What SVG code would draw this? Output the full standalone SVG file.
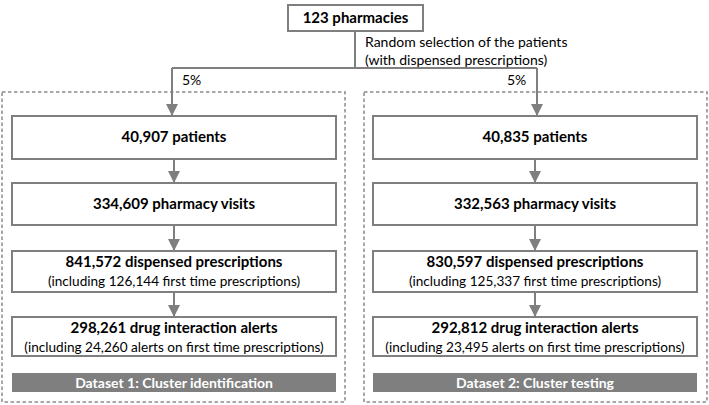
<svg xmlns="http://www.w3.org/2000/svg" width="709" height="405" viewBox="0 0 709 405">
<defs>
<style>
.box{fill:#fff;stroke:#7f7f7f;stroke-width:2}
.cont{fill:none;stroke:#8c8c8c;stroke-width:1.5;stroke-dasharray:3.5 2.5}
.bar{fill:#7f7f7f}
.ln{fill:none;stroke:#7f7f7f;stroke-width:2}
.b{font-family:Lato,"Liberation Sans",sans-serif;font-weight:bold;font-size:15px;fill:#000;text-anchor:middle}
.r{font-family:Lato,"Liberation Sans",sans-serif;font-size:13.6px;fill:#000;text-anchor:middle}
.l{font-family:Lato,"Liberation Sans",sans-serif;font-size:14px;fill:#000}
.w{font-family:Lato,"Liberation Sans",sans-serif;font-weight:bold;font-size:14px;fill:#fff;text-anchor:middle}
</style>
<marker id="ah" markerWidth="6" markerHeight="6" refX="6" refY="3" orient="auto" markerUnits="strokeWidth">
<path d="M0,0 L6,3 L0,6 Z" fill="#7f7f7f"/>
</marker>
</defs>
<rect width="709" height="405" fill="#fff"/>
<g id="containers">
<rect class="cont" x="2" y="92" width="343" height="310"/>
<rect class="cont" x="364" y="92" width="343" height="310"/>
</g>
<g id="connectors">
<path class="ln" d="M355,31 V68 M172,68 H537"/>
<path class="ln" d="M172,68 V116" marker-end="url(#ah)"/>
<path class="ln" d="M537,68 V116" marker-end="url(#ah)"/>
<path class="ln" d="M174,159 V183" marker-end="url(#ah)"/>
<path class="ln" d="M174,225 V251" marker-end="url(#ah)"/>
<path class="ln" d="M174,292 V317" marker-end="url(#ah)"/>
<path class="ln" d="M535,159 V183" marker-end="url(#ah)"/>
<path class="ln" d="M535,225 V251" marker-end="url(#ah)"/>
<path class="ln" d="M535,292 V317" marker-end="url(#ah)"/>
<text class="l" x="365" y="47">Random selection of the patients</text>
<text class="l" x="365" y="65">(with dispensed prescriptions)</text>
<text class="l" x="182" y="85">5%</text>
<text class="l" x="507" y="85">5%</text>
</g>
<g id="n0">
<rect class="box" x="288" y="5" width="135" height="26"/>
<text class="b" x="355.5" y="23">123 pharmacies</text>
</g>
<g id="l1">
<rect class="box" x="12" y="116" width="324" height="43"/>
<text class="b" x="174" y="142">40,907 patients</text>
</g>
<g id="l2">
<rect class="box" x="12" y="183" width="324" height="42"/>
<text class="b" x="174" y="209">334,609 pharmacy visits</text>
</g>
<g id="l3">
<rect class="box" x="12" y="251" width="324" height="41"/>
<text class="b" x="174" y="267">841,572 dispensed prescriptions</text>
<text class="r" x="174" y="286">(including 126,144 first time prescriptions)</text>
</g>
<g id="l4">
<rect class="box" x="12" y="317" width="324" height="39"/>
<text class="b" x="174" y="333">298,261 drug interaction alerts</text>
<text class="r" x="174" y="352">(including 24,260 alerts on first time prescriptions)</text>
</g>
<g id="l5">
<rect class="bar" x="12" y="373" width="324" height="19"/>
<text class="w" x="174" y="387.5">Dataset 1: Cluster identification</text>
</g>
<g id="r1">
<rect class="box" x="373" y="116" width="324" height="43"/>
<text class="b" x="535" y="142">40,835 patients</text>
</g>
<g id="r2">
<rect class="box" x="373" y="183" width="324" height="42"/>
<text class="b" x="535" y="209">332,563 pharmacy visits</text>
</g>
<g id="r3">
<rect class="box" x="373" y="251" width="324" height="41"/>
<text class="b" x="535" y="267">830,597 dispensed prescriptions</text>
<text class="r" x="535" y="286">(including 125,337 first time prescriptions)</text>
</g>
<g id="r4">
<rect class="box" x="373" y="317" width="324" height="39"/>
<text class="b" x="535" y="333">292,812 drug interaction alerts</text>
<text class="r" x="535" y="352">(including 23,495 alerts on first time prescriptions)</text>
</g>
<g id="r5">
<rect class="bar" x="373" y="373" width="324" height="19"/>
<text class="w" x="535" y="387.5">Dataset 2: Cluster testing</text>
</g>
</svg>
